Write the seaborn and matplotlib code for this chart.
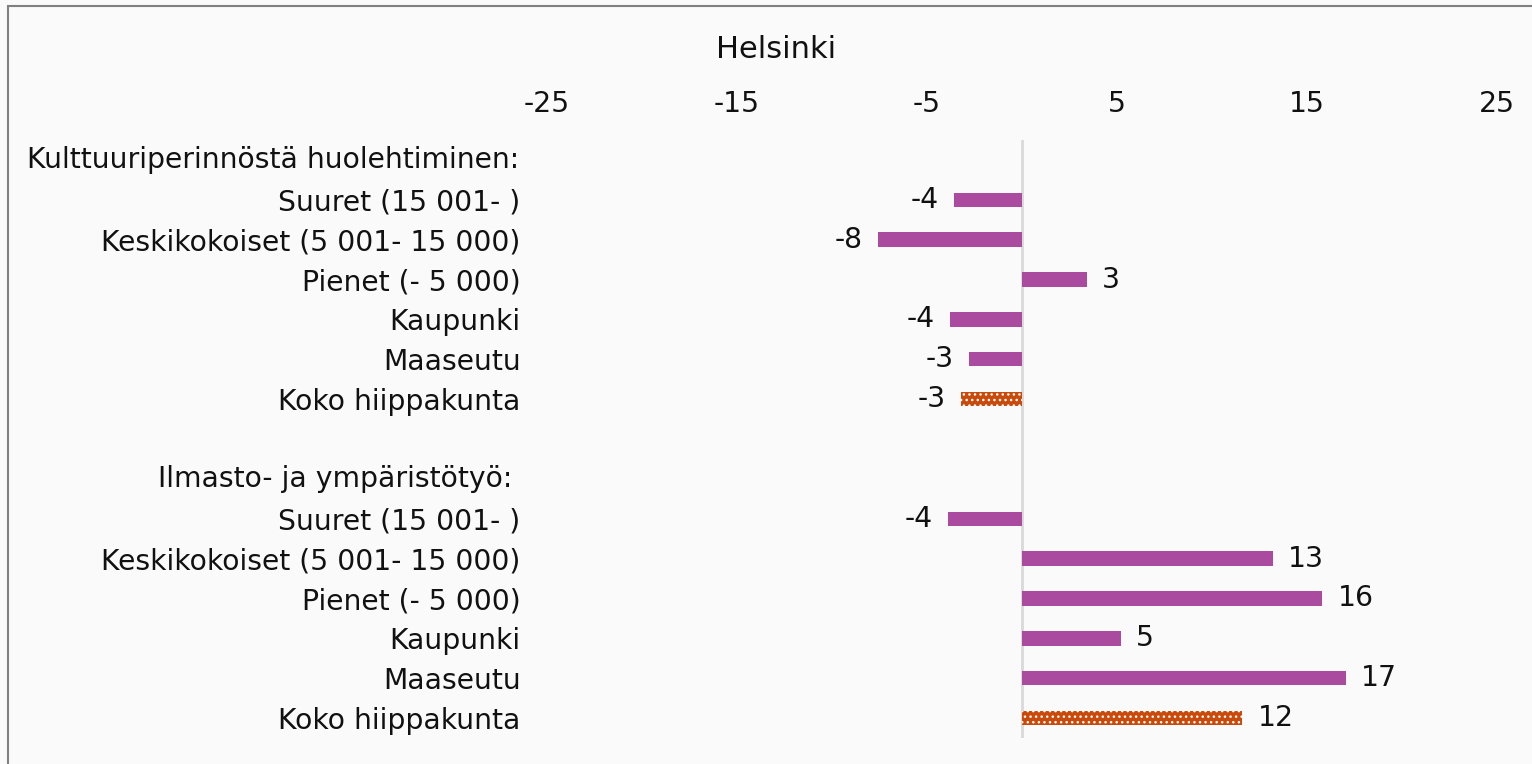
import numpy as np
import pandas as pd
import matplotlib
matplotlib.use("Agg")
import matplotlib.pyplot as plt
import matplotlib.transforms as mtransforms
from matplotlib.patches import Rectangle
import seaborn as sns

# data (header rows and the gap have no value)
labels = ["Kulttuuriperinnöstä huolehtiminen:", "Suuret (15 001- )", "Keskikokoiset (5 001- 15 000)",
          "Pienet (- 5 000)", "Kaupunki", "Maaseutu", "Koko hiippakunta", "",
          "Ilmasto- ja ympäristötyö:", "Suuret (15 001- )", "Keskikokoiset (5 001- 15 000)",
          "Pienet (- 5 000)", "Kaupunki", "Maaseutu", "Koko hiippakunta"]
values = [np.nan, -3.6, -7.6, 3.4, -3.8, -2.8, -3.2, np.nan,
          np.nan, -3.9, 13.2, 15.8, 5.2, 17.05, 11.6]
groups = ["osa", "osa", "osa", "osa", "osa", "osa", "koko", "osa",
          "osa", "osa", "osa", "osa", "osa", "osa", "koko"]
header_rows = [0, 8]
x_ticks = [-25, -15, -5, 5, 15, 25]

magenta = "#AA4BA0"
orange = "#C94A0A"
bg = "#FAFAFA"
txt = "#111111"
fs = 20.3

df = pd.DataFrame({"rivi": [str(i) for i in range(len(labels))],
                   "arvo": values, "ryhma": groups})

sns.set_style("white")
plt.rcParams["font.family"] = ["DejaVu Sans"]
plt.rcParams["axes.unicode_minus"] = False

fig = plt.figure(figsize=(15.32, 7.64), dpi=100, facecolor=bg)
ax = fig.add_axes([547 / 1532, 1 - 738 / 764, 950 / 1532, 598 / 764])
ax.set_facecolor(bg)

sns.barplot(data=df, x="arvo", y="rivi", hue="ryhma", order=df["rivi"],
            palette={"osa": magenta, "koko": orange}, dodge=False,
            saturation=1, width=0.36, legend=False, ax=ax, orient="h")

# koko hiippakunta bars get the white dot pattern
for p in ax.patches:
    p.set_linewidth(0)
    fc = p.get_facecolor()
    if np.allclose(fc[:3], matplotlib.colors.to_rgb(orange), atol=0.02):
        p.set_hatch("...")
        p.set_edgecolor("white")

for c in ax.containers:
    ax.bar_label(c, fmt=lambda v: f"{round(v):d}" if not np.isnan(v) else "",
                 padding=11, fontsize=fs, color=txt)

ax.axvline(0, color="#D9D9D9", lw=2, zorder=0)

ax.set_xlim(-25, 25)
ax.set_xticks(x_ticks)
ax.xaxis.tick_top()
ax.tick_params(axis="x", length=0, pad=16, labelsize=fs, labelcolor=txt)

tick_labels = ["" if i in header_rows else t for i, t in enumerate(labels)]
ax.set_yticks(range(len(labels)))
ax.set_yticklabels(tick_labels)
ax.tick_params(axis="y", length=0, pad=19, labelsize=fs, labelcolor=txt)
ax.set_xlabel("")
ax.set_ylabel("")
ax.set_ylim(len(labels) - 0.5, -0.5)

trans = mtransforms.blended_transform_factory(fig.transFigure, ax.transData)
ax.text(27 / 1532, 0, labels[0], transform=trans, ha="left", va="center",
        fontsize=fs, color=txt)
ax.text(158 / 1532, 8, labels[8], transform=trans, ha="left", va="center",
        fontsize=fs, color=txt)

for s in ax.spines.values():
    s.set_visible(False)

fig.text(776 / 1532, 1 - 50 / 764, "Helsinki", ha="center", va="center",
         fontsize=22, color=txt)

fig.add_artist(Rectangle((8 / 1532, -0.1), 1.2, 1.1 - 6 / 764,
                         transform=fig.transFigure, fill=False,
                         edgecolor="#808080", lw=1.5))

fig.savefig("out.png", dpi=100, facecolor=bg)
